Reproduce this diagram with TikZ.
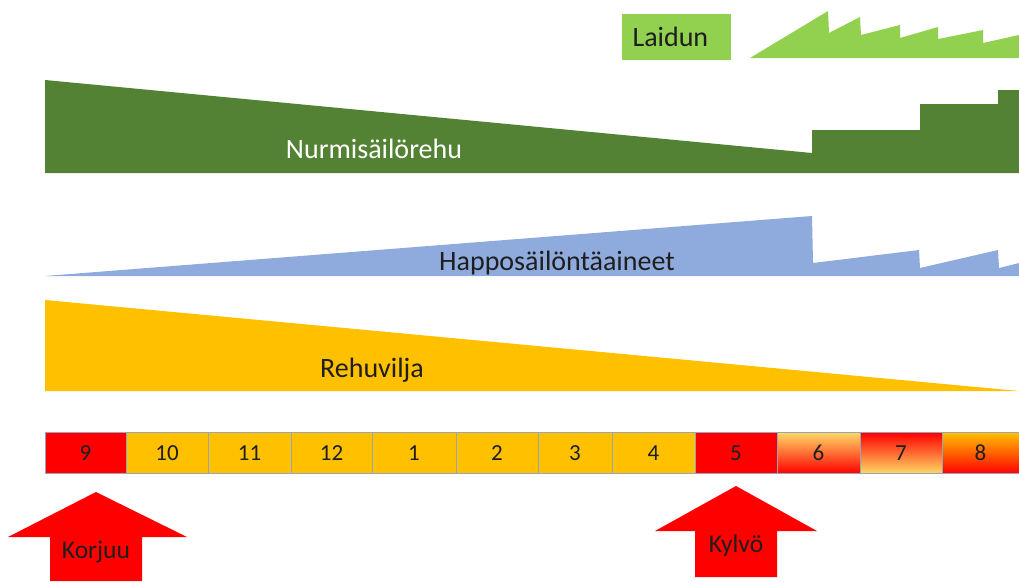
\documentclass[tikz,border=0pt]{standalone}
\usepackage{fontspec}
\setmainfont{Carlito}
\usepackage{xcolor}
\usepackage{tikz}
\definecolor{laidunGreen}{RGB}{146, 208, 80}
\definecolor{nurmiGreen}{RGB}{84, 130, 53}
\definecolor{happoBlue}{RGB}{143, 170, 220}
\definecolor{rehuOrange}{RGB}{255, 192, 0}
\definecolor{paleOrange}{RGB}{255, 217, 102}
\definecolor{cellGray}{RGB}{150, 165, 185}
\definecolor{darkText}{RGB}{30, 30, 30}
\usetikzlibrary{positioning}

\begin{document}
\begin{tikzpicture}[
    x=1pt, y=-1pt,
    label text/.style={font=\fontsize{28}{32}\selectfont, text=#1, anchor=base, inner sep=0pt},
    arrow text/.style={font=\fontsize{25.5}{28}\selectfont, text=darkText, anchor=base, inner sep=0pt},
    laidunbox/.style={rectangle, fill=laidunGreen, text width=87pt, align=left, inner xsep=11pt, inner ysep=0pt, minimum height=46pt, font=\fontsize{28}{32}\selectfont, text=darkText},
    month/.style={rectangle, draw=cellGray, line width=0.6pt, minimum width=#1, minimum height=41pt, inner sep=0pt, font=\fontsize{23}{26}\selectfont, text=darkText},
    redcell/.style={fill=red},
    orangecell/.style={fill=rehuOrange},
    risecell/.style={top color=paleOrange, middle color=orange!80!yellow, bottom color=red},
    fallcell/.style={top color=red, middle color=orange!80!yellow, bottom color=paleOrange},
    lastcell/.style={top color=rehuOrange, middle color=orange, bottom color=red}
]
    \useasboundingbox (0,0) rectangle (1019,581);

    % Layers
    \fill[laidunGreen] (750,58) -- (828,11) -- (829,33) -- (860,17) -- (861,35) -- (900,25) -- (900,38)
        -- (938,27) -- (938,39) -- (983,30) -- (983,43) -- (1019,35) -- (1019,58) -- cycle;
    \fill[nurmiGreen] (45,80) -- (812,153) -- (812,130) -- (920,130) -- (920,104) -- (998,104) -- (998,90)
        -- (1019,90) -- (1019,173) -- (45,173) -- cycle;
    \fill[happoBlue] (45,276) -- (812,216) -- (813,263) -- (919,250) -- (920,268) -- (998,250) -- (999,268)
        -- (1019,263) -- (1019,276) -- cycle;
    \fill[rehuOrange] (45,300) -- (1019,391) -- (45,391) -- cycle;

    \node[laidunbox] (laidun) at (676,37) {Laidun};
    \node[label text=white] (nurmi) at (374,158) {Nurmisäilörehu};
    \node[label text=darkText] (happo) at (557,270) {Happosäilöntäaineet};
    \node[label text=darkText] (rehu) at (372,377) {Rehuvilja};

    % Months
    \foreach \m/\a/\b/\st in {9/45/126/redcell, 10/126/208/orangecell, 11/208/291/orangecell,
        12/291/372/orangecell, 1/372/456/orangecell, 2/456/538/orangecell, 3/538/612/orangecell,
        4/612/695/orangecell, 5/695/777/redcell, 6/777/860/risecell, 7/860/942/fallcell, 8/942/1019/lastcell}
        \node[month=\b-\a, \st] (m\m) at ({(\a+\b)/2}, 453) {\m};

    % Arrows
    \fill[red] (96,492) -- (187,537) -- (142,537) -- (142,581) -- (50,581) -- (50,537) -- (8,537) -- cycle;
    \fill[red] (736,486) -- (817,531) -- (777,531) -- (777,577) -- (695,577) -- (695,531) -- (655,531) -- cycle;
    \node[arrow text] (korjuu) at (96,558) {Korjuu};
    \node[arrow text] (kylvo) at (736,552) {Kylvö};
\end{tikzpicture}
\end{document}
